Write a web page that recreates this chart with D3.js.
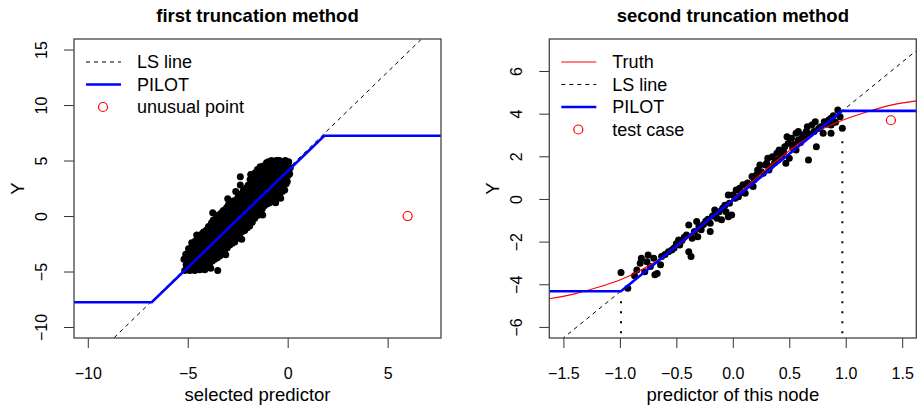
<!DOCTYPE html>
<html>
<head>
<meta charset="utf-8">
<script src="https://cdn.jsdelivr.net/npm/d3@7"></script>
<style>
body { margin: 0; background: #fff; }
svg { display: block; font-family: "Liberation Sans", Arial, Helvetica, sans-serif; }
</style>
</head>
<body>
<div id="chart"></div>
<script>
// ---- data ----
const titles = ["first truncation method", "second truncation method"];
const xLabels = ["selected predictor", "predictor of this node"];

const leftXTicks = [-10, -5, 0, 5];
const leftYTicks = [-10, -5, 0, 5, 10, 15];
const rightXTicks = [-1.5, -1, -0.5, 0, 0.5, 1, 1.5];
const rightYTicks = [-6, -4, -2, 0, 2, 4, 6];

// observations, first panel
const leftPoints = [
  [-5.15,-4.90],[-5.08,-4.40],[-5.19,-3.90],[-5.10,-3.45],
  [-4.90,-4.90],[-4.83,-4.40],[-4.94,-3.90],[-4.85,-3.40],[-4.96,-2.95],
  [-4.65,-4.90],[-4.58,-4.40],[-4.69,-3.85],[-4.60,-3.30],[-4.71,-2.75],[-4.62,-2.25],
  [-4.40,-4.85],[-4.33,-4.30],[-4.44,-3.75],[-4.35,-3.20],[-4.46,-2.65],[-4.37,-2.10],[-4.31,-1.65],
  [-4.15,-4.85],[-4.08,-4.30],[-4.19,-3.75],[-4.10,-3.20],[-4.21,-2.65],[-4.12,-2.10],[-4.17,-1.55],[-4.06,-1.25],
  [-3.90,-4.30],[-3.83,-3.75],[-3.94,-3.20],[-3.85,-2.65],[-3.96,-2.10],[-3.87,-1.55],[-3.92,-1.00],[-3.81,-0.60],
  [-3.65,-3.90],[-3.58,-3.35],[-3.69,-2.80],[-3.60,-2.25],[-3.71,-1.70],[-3.62,-1.15],[-3.67,-0.60],[-3.56,-0.10],
  [-3.40,-3.60],[-3.33,-3.05],[-3.44,-2.50],[-3.35,-1.95],[-3.46,-1.40],[-3.37,-0.85],[-3.42,-0.30],[-3.31,0.30],
  [-3.50,-4.90],
  [-3.15,-3.10],[-3.08,-2.55],[-3.19,-2.00],[-3.10,-1.45],[-3.21,-0.90],[-3.12,-0.35],[-3.17,0.20],[-3.06,0.75],
  [-2.90,-2.60],[-2.83,-2.05],[-2.94,-1.50],[-2.85,-0.95],[-2.96,-0.40],[-2.87,0.15],[-2.92,0.70],[-2.81,1.25],
  [-2.65,-2.35],[-2.58,-1.80],[-2.69,-1.25],[-2.60,-0.70],[-2.71,-0.15],[-2.62,0.40],[-2.67,0.95],[-2.56,1.50],
  [-2.40,-1.65],[-2.33,-1.10],[-2.44,-0.55],[-2.35,0.00],[-2.46,0.55],[-2.37,1.10],[-2.42,1.65],[-2.31,2.00],
  [-2.37,3.54],[-2.37,2.79],
  [-2.15,-1.30],[-2.08,-0.75],[-2.19,-0.20],[-2.10,0.35],[-2.21,0.90],[-2.12,1.45],[-2.17,2.00],[-2.06,2.55],
  [-1.90,-0.90],[-1.83,-0.35],[-1.94,0.20],[-1.85,0.75],[-1.96,1.30],[-1.87,1.85],[-1.92,2.40],[-1.81,2.95],[-1.88,3.30],
  [-1.65,-0.20],[-1.58,0.35],[-1.69,0.90],[-1.60,1.45],[-1.71,2.00],[-1.62,2.55],[-1.67,3.10],[-1.56,3.60],[-1.63,3.90],
  [-1.40,0.30],[-1.33,0.85],[-1.44,1.40],[-1.35,1.95],[-1.46,2.50],[-1.37,3.05],[-1.42,3.60],[-1.31,4.10],[-1.38,4.45],
  [-1.15,0.95],[-1.08,1.50],[-1.19,2.05],[-1.10,2.60],[-1.21,3.15],[-1.12,3.70],[-1.17,4.25],[-1.06,4.80],
  [-0.90,1.20],[-0.83,1.75],[-0.94,2.30],[-0.85,2.85],[-0.96,3.40],[-0.87,3.95],[-0.92,4.50],[-0.81,5.00],
  [-0.65,1.50],[-0.58,2.05],[-0.69,2.60],[-0.60,3.15],[-0.71,3.70],[-0.62,4.25],[-0.67,4.80],[-0.56,5.00],
  [-0.40,2.00],[-0.33,2.55],[-0.44,3.10],[-0.35,3.65],[-0.46,4.20],[-0.37,4.75],[-0.42,5.00],
  [-0.15,2.35],[-0.08,2.90],[-0.19,3.45],[-0.10,4.00],[-0.21,4.55],[-0.12,5.00],
  [0.10,3.80],[0.13,4.35],[0.05,4.90],
  // second, staggered set
  [-5.02,-4.65],[-4.98,-4.15],[-5.05,-3.65],
  [-4.77,-4.65],[-4.73,-4.15],[-4.80,-3.65],[-4.75,-3.15],[-4.79,-2.75],
  [-4.52,-4.65],[-4.48,-4.10],[-4.55,-3.55],[-4.50,-3.00],[-4.54,-2.50],[-4.49,-2.00],
  [-4.27,-4.60],[-4.23,-4.05],[-4.30,-3.50],[-4.25,-2.95],[-4.29,-2.40],[-4.24,-1.85],[-4.21,-1.45],
  [-4.02,-4.60],[-3.98,-4.05],[-4.05,-3.50],[-4.00,-2.95],[-4.04,-2.40],[-3.99,-1.85],[-4.03,-1.35],[-3.96,-0.95],
  [-3.77,-4.05],[-3.73,-3.50],[-3.80,-2.95],[-3.75,-2.40],[-3.79,-1.85],[-3.74,-1.30],[-3.78,-0.80],[-3.72,-0.35],
  [-3.52,-3.75],[-3.48,-3.20],[-3.55,-2.65],[-3.50,-2.10],[-3.54,-1.55],[-3.49,-1.00],[-3.53,-0.45],[-3.47,0.10],
  [-3.27,-3.35],[-3.23,-2.80],[-3.30,-2.25],[-3.25,-1.70],[-3.29,-1.15],[-3.24,-0.60],[-3.28,-0.05],[-3.22,0.50],
  [-3.02,-2.85],[-2.98,-2.30],[-3.05,-1.75],[-3.00,-1.20],[-3.04,-0.65],[-2.99,-0.10],[-3.03,0.45],[-2.97,1.00],
  [-2.77,-2.45],[-2.73,-1.90],[-2.80,-1.35],[-2.75,-0.80],[-2.79,-0.25],[-2.74,0.30],[-2.78,0.85],[-2.72,1.35],
  [-2.52,-2.00],[-2.48,-1.45],[-2.55,-0.90],[-2.50,-0.35],[-2.54,0.20],[-2.49,0.75],[-2.53,1.30],[-2.47,1.80],
  [-2.27,-1.40],[-2.23,-0.85],[-2.30,-0.30],[-2.25,0.25],[-2.29,0.80],[-2.24,1.35],[-2.28,1.90],[-2.22,2.30],
  [-2.02,-1.05],[-1.98,-0.50],[-2.05,0.05],[-2.00,0.60],[-2.04,1.15],[-1.99,1.70],[-2.03,2.25],[-1.97,2.80],
  [-1.77,-0.55],[-1.73,0.00],[-1.80,0.55],[-1.75,1.10],[-1.79,1.65],[-1.74,2.20],[-1.78,2.75],[-1.72,3.30],[-1.76,3.60],
  [-1.52,0.05],[-1.48,0.60],[-1.55,1.15],[-1.50,1.70],[-1.54,2.25],[-1.49,2.80],[-1.53,3.35],[-1.47,3.85],[-1.51,4.20],
  [-1.27,0.65],[-1.23,1.20],[-1.30,1.75],[-1.25,2.30],[-1.29,2.85],[-1.24,3.40],[-1.28,3.95],[-1.22,4.50],
  [-1.02,1.10],[-0.98,1.65],[-1.05,2.20],[-1.00,2.75],[-1.04,3.30],[-0.99,3.85],[-1.03,4.40],[-0.97,4.90],
  [-0.77,1.35],[-0.73,1.90],[-0.80,2.45],[-0.75,3.00],[-0.79,3.55],[-0.74,4.10],[-0.78,4.65],
  [-0.52,1.80],[-0.48,2.35],[-0.55,2.90],[-0.50,3.45],[-0.54,4.00],[-0.49,4.55],[-0.53,5.00],
  [-0.27,2.20],[-0.23,2.75],[-0.30,3.30],[-0.25,3.85],[-0.29,4.40],[-0.24,4.90],
  [-0.02,3.10],[0.02,3.65],[-0.05,4.20],[0.00,4.70],
  // ragged edge points
  [-3.00,1.55],[-3.75,0.30],[-2.60,2.20],[-4.55,-1.70],[-1.25,0.10],[-2.30,-2.10],
  [-0.35,1.60],[-3.10,-3.50],[-1.85,3.75],[-4.80,-2.40],[-0.60,1.20],[-3.85,-4.70]
];
const unusualPoint = [6, 0];
const leftLS = { intercept: 4.23, slope: 1.75 };
const leftPilot = [[-10.69, -7.77], [-6.8, -7.77], [1.83, 7.23], [7.67, 7.23]];

// observations, second panel
const rightPoints = [
  [-0.99,-3.45],[-0.93,-4.19],[-0.87,-3.60],[-0.85,-3.33],[-0.82,-3.02],[-0.81,-2.78],
  [-0.78,-3.41],[-0.76,-2.94],[-0.75,-2.63],[-0.73,-3.17],[-0.70,-2.78],[-0.69,-3.56],
  [-0.67,-3.50],[-0.64,-3.09],[-0.63,-2.70],[-0.60,-2.60],[-0.57,-2.47],[-0.54,-2.39],
  [-0.52,-2.30],[-0.50,-2.10],[-0.48,-1.92],[-0.47,-2.16],[-0.45,-1.95],[-0.43,-1.80],
  [-0.41,-1.69],[-0.39,-1.22],[-0.39,-2.47],[-0.37,-2.70],[-0.36,-1.84],[-0.34,-1.53],
  [-0.32,-1.06],[-0.31,-1.77],[-0.30,-1.30],[-0.28,-1.45],[-0.26,-1.20],[-0.24,-1.05],
  [-0.22,-0.95],[-0.20,-1.14],[-0.20,-1.53],[-0.18,-0.80],[-0.16,-0.52],[-0.14,-0.90],
  [-0.12,-0.60],[-0.10,-0.98],[-0.09,-0.44],[-0.07,-0.30],[-0.06,-0.60],[-0.04,0.19],
  [-0.04,-0.83],[-0.03,-0.20],[-0.01,-0.75],[0.00,0.19],[0.02,0.03],[0.03,0.42],
  [0.05,0.10],[0.06,0.50],[0.08,0.30],[0.09,0.66],[0.11,0.27],[0.13,0.75],
  [0.15,0.66],[0.17,1.05],[0.18,0.58],[0.19,0.90],[0.21,1.13],[0.22,1.36],
  [0.24,1.59],[0.25,1.28],[0.27,1.20],[0.29,1.59],[0.30,1.67],[0.31,1.91],
  [0.32,1.36],[0.33,1.51],[0.35,1.98],[0.37,1.70],[0.39,2.14],[0.40,1.83],
  [0.41,2.30],[0.43,2.06],[0.45,2.20],[0.46,2.45],[0.47,1.67],[0.48,2.92],
  [0.49,2.60],[0.50,1.91],[0.52,2.85],[0.53,2.40],[0.54,2.55],[0.56,3.08],
  [0.56,2.30],[0.58,2.77],[0.58,3.16],[0.60,2.65],[0.61,2.85],[0.62,3.00],
  [0.64,2.90],[0.65,3.16],[0.66,3.39],[0.67,1.83],[0.68,3.05],[0.70,3.47],
  [0.72,3.16],[0.73,3.62],[0.74,2.45],[0.76,3.30],[0.78,3.39],[0.80,3.08],
  [0.81,3.62],[0.83,3.50],[0.85,3.70],[0.87,3.78],[0.87,3.47],[0.87,3.08],
  [0.89,3.90],[0.91,3.60],[0.93,4.17],[0.95,3.86],[0.97,3.31]
];
const testCase = [1.40, 3.69];
const truthX = [-1.625, -1.4, -1.2, -1.0, -0.8, -0.6, -0.4, -0.2, 0, 0.2, 0.4, 0.6, 0.8, 1.0, 1.2, 1.4, 1.625];
const truthY = [-4.68, -4.45, -4.15, -3.8, -3.3, -2.65, -1.85, -0.95, 0, 0.95, 1.85, 2.65, 3.3, 3.75, 4.1, 4.4, 4.6];
const rightLS = { intercept: -0.05, slope: 4.31 };
const rightPilot = [[-1.625, -4.33], [-0.99, -4.33], [0.967, 4.13], [1.625, 4.13]];
const splitLines = [[-0.99, -6.3, -4.7], [0.97, -6.3, 2.8]];

const leftLegend = ["LS line", "PILOT", "unusual point"];
const rightLegend = ["Truth", "LS line", "PILOT", "test case"];

// ---- layout ----
width = 919;
height = 410;
const plotTop = 39, plotBottom = 338;
const minus = s => String(s).replace("-", "\u2212");

const svg = d3.select("#chart").append("svg")
  .attr("width", width)
  .attr("height", height)
  .attr("viewBox", [0, 0, width, height]);

function panel(id, left, right, xDomain, yDomain, xTicks, yTicks, xFmt, title, xLabel) {
  const x = d3.scaleLinear().domain(xDomain).range([left, right]);
  const y = d3.scaleLinear().domain(yDomain).range([plotBottom, plotTop]);
  const g = svg.append("g");

  g.append("clipPath").attr("id", id)
    .append("rect")
    .attr("x", left).attr("y", plotTop)
    .attr("width", right - left).attr("height", plotBottom - plotTop);

  const xAxis = g.append("g")
    .attr("transform", `translate(0,${plotBottom})`)
    .call(d3.axisBottom(x).tickValues(xTicks).tickSize(10).tickPadding(19.5).tickFormat(d => minus(xFmt(d))));
  const yAxis = g.append("g")
    .attr("transform", `translate(${left},0)`)
    .call(d3.axisLeft(y).tickValues(yTicks).tickSize(10).tickFormat(d => minus(d)));

  [xAxis, yAxis].forEach(a => {
    a.select(".domain").remove();
    a.attr("font-family", null).attr("font-size", 16);
    a.selectAll("line").attr("stroke", "#333");
    a.selectAll("text").attr("fill", "#000");
  });
  yAxis.selectAll("text")
    .attr("x", 0).attr("dy", 0)
    .attr("text-anchor", "middle")
    .attr("transform", "translate(-27,0) rotate(-90)");

  g.append("text")
    .attr("x", (left + right) / 2).attr("y", 21.5)
    .attr("text-anchor", "middle")
    .attr("font-weight", "bold").attr("font-size", 18.5)
    .text(title);
  g.append("text")
    .attr("x", (left + right) / 2).attr("y", 401)
    .attr("text-anchor", "middle")
    .attr("font-size", 18.5)
    .text(xLabel);
  g.append("text")
    .attr("transform", `translate(${left - 50},${(plotTop + plotBottom) / 2}) rotate(-90)`)
    .attr("text-anchor", "middle")
    .attr("font-size", 18.5)
    .text("Y");

  const plot = g.append("g").attr("clip-path", `url(#${id})`);
  return { x, y, g, plot };
}

const fmtInt = d => d3.format("d")(d);
const fmt1 = d => d3.format(".1f")(d);

const p1 = panel("clip1", 74, 441, [-10.69, 7.67], [-10.99, 15.95], leftXTicks, leftYTicks, fmtInt, titles[0], xLabels[0]);
const p2 = panel("clip2", 549.3, 916.3, [-1.625, 1.625], [-6.52, 7.5], rightXTicks, rightYTicks, fmt1, titles[1], xLabels[1]);

function dots(p, pts) {
  p.plot.selectAll("circle.obs")
    .data(pts)
    .join("circle")
    .attr("class", "obs")
    .attr("cx", d => p.x(d[0]))
    .attr("cy", d => p.y(d[1]))
    .attr("r", 3.5)
    .attr("fill", "#000");
}

function abline(p, coef) {
  const xs = p.x.domain();
  p.plot.append("line")
    .attr("x1", p.x(xs[0])).attr("y1", p.y(coef.intercept + coef.slope * xs[0]))
    .attr("x2", p.x(xs[1])).attr("y2", p.y(coef.intercept + coef.slope * xs[1]))
    .attr("stroke", "#000").attr("stroke-width", 1)
    .attr("stroke-dasharray", "4,4");
}

function path(p, pts, color, w, curve) {
  p.plot.append("path")
    .datum(pts)
    .attr("fill", "none")
    .attr("stroke", color)
    .attr("stroke-width", w)
    .attr("d", d3.line().x(d => p.x(d[0])).y(d => p.y(d[1])).curve(curve || d3.curveLinear));
}

function openCircle(p, pt) {
  p.plot.append("circle")
    .attr("cx", p.x(pt[0])).attr("cy", p.y(pt[1]))
    .attr("r", 4.5)
    .attr("fill", "none").attr("stroke", "#ff0000").attr("stroke-width", 1.2);
}

// left panel
dots(p1, leftPoints);
abline(p1, leftLS);
path(p1, leftPilot, "#0000ff", 2.6);
openCircle(p1, unusualPoint);

// right panel
dots(p2, rightPoints);
path(p2, d3.zip(truthX, truthY), "#ff0000", 1.1, d3.curveNatural);
abline(p2, rightLS);
path(p2, rightPilot, "#0000ff", 2.6);
openCircle(p2, testCase);
p2.plot.selectAll("line.split")
  .data(splitLines)
  .join("line")
  .attr("class", "split")
  .attr("x1", d => p2.x(d[0])).attr("x2", d => p2.x(d[0]))
  .attr("y1", d => p2.y(d[1])).attr("y2", d => p2.y(d[2]))
  .attr("stroke", "#000").attr("stroke-width", 2)
  .attr("stroke-dasharray", "2,8");

// legends
function legend(p, left, items) {
  const rows = p.g.append("g").attr("font-size", 18);
  items.forEach((it, i) => {
    const cy = plotTop + 23 + i * 22.5;
    if (it.kind === "pt") {
      rows.append("circle").attr("cx", left + 29).attr("cy", cy).attr("r", 4.5)
        .attr("fill", "none").attr("stroke", "#ff0000").attr("stroke-width", 1.2);
    } else {
      rows.append("line")
        .attr("x1", left + 12).attr("x2", left + 47)
        .attr("y1", cy).attr("y2", cy)
        .attr("stroke", it.color).attr("stroke-width", it.w)
        .attr("stroke-dasharray", it.dash || null);
    }
    rows.append("text")
      .attr("x", left + 63).attr("y", cy).attr("dy", "0.35em")
      .text(it.label);
  });
}

legend(p1, 74, [
  { label: leftLegend[0], color: "#000", w: 1, dash: "4,4" },
  { label: leftLegend[1], color: "#0000ff", w: 2.6 },
  { label: leftLegend[2], kind: "pt" }
]);
legend(p2, 549.3, [
  { label: rightLegend[0], color: "#ff0000", w: 1.1 },
  { label: rightLegend[1], color: "#000", w: 1, dash: "4,4" },
  { label: rightLegend[2], color: "#0000ff", w: 2.6 },
  { label: rightLegend[3], kind: "pt" }
]);

// boxes
[[74, 441], [549.3, 916.3]].forEach(([l, r]) => {
  svg.append("rect")
    .attr("x", l).attr("y", plotTop)
    .attr("width", r - l).attr("height", plotBottom - plotTop)
    .attr("fill", "none").attr("stroke", "#444").attr("stroke-width", 1.3);
});
</script>
</body>
</html>
